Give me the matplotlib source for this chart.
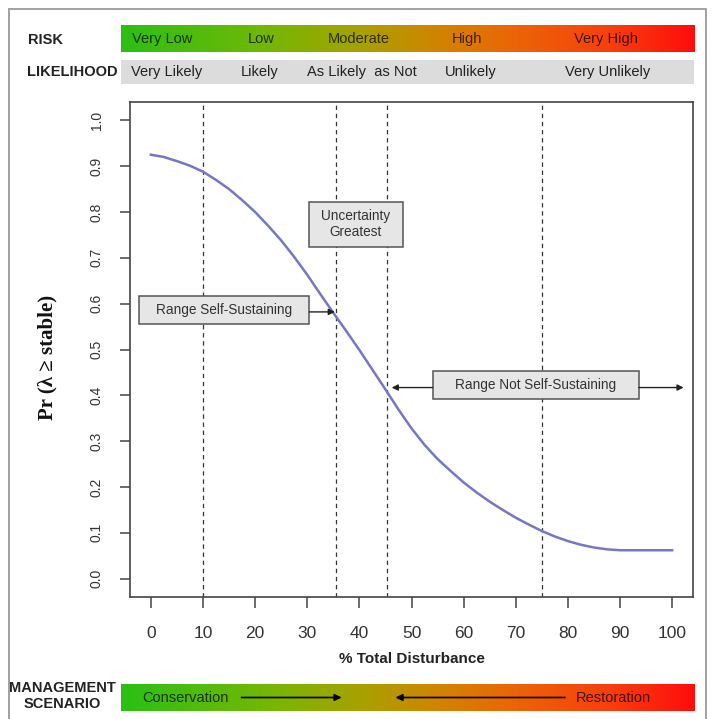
import numpy as np
import matplotlib
matplotlib.use("Agg")
import matplotlib.pyplot as plt
from matplotlib.colors import LinearSegmentedColormap
from matplotlib.patches import Rectangle

# ---------------- data ----------------
disturbance = [0, 2.5, 5, 7.5, 10, 12.5, 15, 17.5, 20, 22.5, 25, 27.5, 30, 32.5, 35, 37.5,
               40, 42.5, 45, 47.5, 50, 52.5, 55, 57.5, 60, 62.5, 65, 67.5, 70, 72.5, 75,
               77.5, 80, 82.5, 85, 87.5, 90, 92.5, 95, 97.5, 100]
prob_stable = [0.925, 0.920, 0.911, 0.901, 0.888, 0.870, 0.850, 0.826, 0.800, 0.770, 0.738,
               0.702, 0.663, 0.621, 0.580, 0.540, 0.499, 0.456, 0.413, 0.369, 0.328, 0.292,
               0.261, 0.235, 0.210, 0.188, 0.168, 0.150, 0.133, 0.118, 0.104, 0.092, 0.082,
               0.074, 0.068, 0.064, 0.062, 0.062, 0.062, 0.062, 0.062]
threshold_lines = [10, 35.5, 45.3, 75]
x_ticks = [0, 10, 20, 30, 40, 50, 60, 70, 80, 90, 100]
y_ticks = [0.0, 0.1, 0.2, 0.3, 0.4, 0.5, 0.6, 0.7, 0.8, 0.9, 1.0]
risk_labels = ["Very Low", "Low", "Moderate", "High", "Very High"]
likelihood_labels = ["Very Likely", "Likely", "As Likely  as Not", "Unlikely", "Very Unlikely"]
scenario_labels = ["Conservation", "Restoration"]

# ---------------- style ----------------
plt.rcParams['font.family'] = ['Liberation Sans', 'DejaVu Sans']
W, H = 714, 719
fig = plt.figure(figsize=(W / 100, H / 100), dpi=100)
fig.patch.set_facecolor('white')

def fx(px):
    return px / W

def fy(py):
    return 1 - py / H

# outer frame
fig.add_artist(Rectangle((fx(9), -0.02), fx(706) - fx(9), fy(9) + 0.02,
                         transform=fig.transFigure, fill=False,
                         edgecolor='#9a9a9a', lw=1.3))

grad_cmap = LinearSegmentedColormap.from_list(
    'risk', [(0.0, (0.17, 0.75, 0.08)),
             (0.25, (0.45, 0.72, 0.02)),
             (0.42, (0.66, 0.63, 0.0)),
             (0.55, (0.82, 0.52, 0.0)),
             (0.68, (0.92, 0.40, 0.02)),
             (0.85, (0.97, 0.25, 0.05)),
             (1.0, (1.0, 0.05, 0.05))])

bar_l, bar_r = 121, 694

def bar_axes(top, bottom):
    a = fig.add_axes([fx(bar_l), fy(bottom), fx(bar_r) - fx(bar_l), fy(top) - fy(bottom)])
    a.set_xlim(0, 1)
    a.set_ylim(0, 1)
    a.axis('off')
    return a

grad = np.linspace(0, 1, 512).reshape(1, -1)

# RISK bar
ax_risk = bar_axes(25, 52)
ax_risk.imshow(grad, cmap=grad_cmap, aspect='auto', extent=(0, 1, 0, 1))
risk_pos = [0.0716, 0.244, 0.4145, 0.603, 0.847]
for lab, p in zip(risk_labels, risk_pos):
    ax_risk.text(p, 0.48, lab, ha='center', va='center', fontsize=10.5,
                 color='black', alpha=0.72)

# LIKELIHOOD bar
ax_like = bar_axes(60, 84)
ax_like.add_patch(Rectangle((0, 0), 1, 1, facecolor='#dcdcdc', edgecolor='none'))
like_pos = [0.0803, 0.242, 0.4206, 0.6105, 0.8487]
for lab, p in zip(likelihood_labels, like_pos):
    ax_like.text(p, 0.5, lab, ha='center', va='center', fontsize=10.5, color='#222222')

# MANAGEMENT bar
ax_man = bar_axes(684, 711)
ax_man.imshow(grad, cmap=grad_cmap, aspect='auto', extent=(0, 1, 0, 1))
ax_man.text(0.1133, 0.48, scenario_labels[0], ha='center', va='center', fontsize=10.5,
            color='black', alpha=0.72)
ax_man.text(0.8586, 0.48, scenario_labels[1], ha='center', va='center', fontsize=10.5,
            color='black', alpha=0.72)
ax_man.annotate('', xy=(0.385, 0.5), xytext=(0.2103, 0.5),
                arrowprops=dict(arrowstyle='-|>', color='black', lw=1.2, mutation_scale=10,
                                shrinkA=0, shrinkB=0))
ax_man.annotate('', xy=(0.479, 0.5), xytext=(0.775, 0.5),
                arrowprops=dict(arrowstyle='-|>', color='black', lw=1.2, mutation_scale=10,
                                shrinkA=0, shrinkB=0))

# row labels
fig.text(fx(28), fy(40), "RISK", ha='left', va='center', fontsize=10.5, fontweight='bold',
         color='#222222')
fig.text(fx(27), fy(72.5), "LIKELIHOOD", ha='left', va='center', fontsize=10.5,
         fontweight='bold', color='#222222')
fig.text(fx(62), fy(696), "MANAGEMENT\nSCENARIO", ha='center', va='center', fontsize=10.5,
         fontweight='bold', color='#222222', multialignment='center', linespacing=1.2)

# ---------------- main axes ----------------
ax = fig.add_axes([fx(130), fy(597), fx(693) - fx(130), fy(102) - fy(597)])
ax.set_xlim(-4, 104)
ax.set_ylim(-0.04, 1.04)

for xv in threshold_lines:
    ax.axvline(xv, color='#333333', lw=0.9, ls=(0, (3.5, 3)), zorder=1)

ax.plot(disturbance, prob_stable, color='#7676c4', lw=1.8, zorder=3,
        solid_joinstyle='round')

for s in ax.spines.values():
    s.set_color('#444444')
    s.set_linewidth(1.2)

ax.set_xticks(x_ticks)
ax.set_yticks(y_ticks)
ax.set_xticklabels([str(v) for v in x_ticks])
ax.set_yticklabels([f"{v:.1f}" for v in y_ticks], rotation=90, va='center')
ax.tick_params(axis='x', length=8, width=1.1, color='#444444', pad=13,
               labelsize=12.5, labelcolor='#333333')
ax.tick_params(axis='y', length=7, width=1.1, color='#444444', pad=12,
               labelsize=10, labelcolor='#333333')

ax.set_xlabel("% Total Disturbance", fontsize=11, fontweight='bold', color='#222222')
ax.xaxis.set_label_coords(0.5, -(659 - 597) / 495)
ax.xaxis.label.set_va('center')

ax.set_ylabel("Pr (λ ≥ stable)", fontsize=15, fontweight='bold',
              family=['Liberation Serif', 'DejaVu Serif'], color='#111111')
ax.yaxis.set_label_coords((47 - 130) / 563, (597 - 357) / 495)
ax.yaxis.label.set_va('center')

box_kw = dict(facecolor='#e6e6e6', edgecolor='#555555', lw=1.1, zorder=4)
text_kw = dict(ha='center', va='center', fontsize=9.8, color='#333333', zorder=5)

# Uncertainty Greatest box
ax.add_patch(Rectangle((30.3, 0.724), 18.0, 0.098, **box_kw))
ax.text(39.3, 0.773, "Uncertainty\nGreatest", linespacing=1.2, **text_kw)

# Range Self-Sustaining box + arrow
ax.add_patch(Rectangle((-2.3, 0.556), 32.7, 0.061, **box_kw))
ax.text(14.05, 0.5865, "Range Self-Sustaining", **text_kw)
ax.annotate('', xy=(35.3, 0.582), xytext=(30.4, 0.582),
            arrowprops=dict(arrowstyle='-|>', color='#222222', lw=1.0, mutation_scale=9,
                            shrinkA=0, shrinkB=0), zorder=5)

# Range Not Self-Sustaining box + arrows
ax.add_patch(Rectangle((54.05, 0.392), 39.55, 0.061, **box_kw))
ax.text(73.8, 0.4225, "Range Not Self-Sustaining", **text_kw)
ax.annotate('', xy=(46.2, 0.417), xytext=(54.05, 0.417),
            arrowprops=dict(arrowstyle='-|>', color='#222222', lw=1.0, mutation_scale=9,
                            shrinkA=0, shrinkB=0), zorder=5)
ax.annotate('', xy=(102.2, 0.417), xytext=(93.6, 0.417),
            arrowprops=dict(arrowstyle='-|>', color='#222222', lw=1.0, mutation_scale=9,
                            shrinkA=0, shrinkB=0), zorder=5)

fig.savefig("out.png", dpi=100)
